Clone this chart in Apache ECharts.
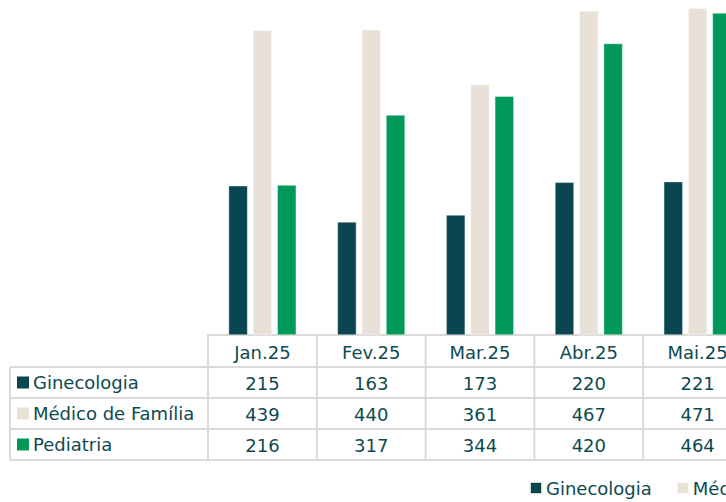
<!DOCTYPE html>
<html><head><meta charset="utf-8">
<script src="https://cdn.jsdelivr.net/npm/echarts@6/dist/echarts.min.js"></script>
<style>html,body{margin:0;padding:0;background:#fff}#c{width:726px;height:502px}</style>
</head><body><div id="c"></div>
<script>
const categories = ['Jan.25','Fev.25','Mar.25','Abr.25','Mai.25'];
const seriesNames = ['Ginecologia','Médico de Família','Pediatria'];
const ginecologia = [215,163,173,220,221];
const medicoFamilia = [439,440,361,467,471];
const pediatria = [216,317,344,420,464];
const colors = ['#0a4650','#e9e1d7','#00995a'];
const values = [ginecologia, medicoFamilia, pediatria];

const FONT = "'DejaVu Sans', Verdana, sans-serif";
const FS = 18;
const TXT = '#0d4a50';
const LINE = '#d9d9d9';
const chart = echarts.init(document.getElementById('c'), null, {renderer:'svg'});

const rowH = 31;
const xAxes = [{
  type:'category', data:categories, position:'bottom', gridIndex:0,
  axisLine:{show:true,lineStyle:{color:LINE,width:2}}, axisTick:{show:false},
  axisLabel:{margin:8,fontSize:FS,fontFamily:FONT,color:TXT}
}];
values.forEach((arr,r)=>{
  xAxes.push({
    type:'category', data:categories, position:'bottom', offset:rowH*(r+1), gridIndex:0,
    axisLine:{show:false}, axisTick:{show:false},
    axisLabel:{margin:8,fontSize:FS,fontFamily:FONT,color:TXT,formatter:(v,i)=>String(arr[i])}
  });
});

chart.setOption({
  animation:false,
  grid:{left:208,top:-12,width:544,height:347,containLabel:false,outerBoundsMode:'none'},
  xAxis:xAxes,
  yAxis:{type:'value',min:0,max:500,show:false,splitLine:{show:false}},
  legend:{
    data:seriesNames, left:529, top:479, width:900, padding:0, icon:'rect', itemWidth:12, itemHeight:12, itemGap:24,
    textStyle:{fontSize:FS,fontFamily:FONT,color:TXT,padding:[0,0,0,-1]}
  },
  series: values.map((arr,i)=>({
    type:'bar', name:seriesNames[i], data:arr, barWidth:19, barGap:'28%',
    itemStyle:{color:colors[i],borderColor:'rgba(255,255,255,0.8)',borderWidth:0.5}
  }))
});

const band = chart.convertToPixel({xAxisIndex:0},1)-chart.convertToPixel({xAxisIndex:0},0);
const top0 = 335, rowTops=[367,398,429,460];
const g = [];
const xLeft = 10;
const bounds = categories.map((c,i)=>chart.convertToPixel({xAxisIndex:0},i)-band/2);
bounds.push(bounds[bounds.length-1]+band);
rowTops.forEach(y=>g.push({type:'line',shape:{x1:xLeft,y1:y,x2:760,y2:y},style:{stroke:LINE,lineWidth:2}}));
g.push({type:'line',shape:{x1:xLeft,y1:rowTops[0],x2:xLeft,y2:rowTops[3]},style:{stroke:LINE,lineWidth:2}});
bounds.forEach(x=>g.push({type:'line',shape:{x1:x,y1:top0,x2:x,y2:rowTops[3]},style:{stroke:LINE,lineWidth:2}}));
seriesNames.forEach((n,r)=>{
  const yc = (rowTops[r]+rowTops[r+1])/2;
  g.push({type:'rect',shape:{x:17,y:yc-6,width:12,height:12},style:{fill:colors[r]}});
  g.push({type:'text',x:33,y:yc,style:{text:n,fontSize:FS,fontFamily:FONT,fill:TXT,verticalAlign:'middle'}});
});
chart.setOption({graphic:g});
</script></body></html>
